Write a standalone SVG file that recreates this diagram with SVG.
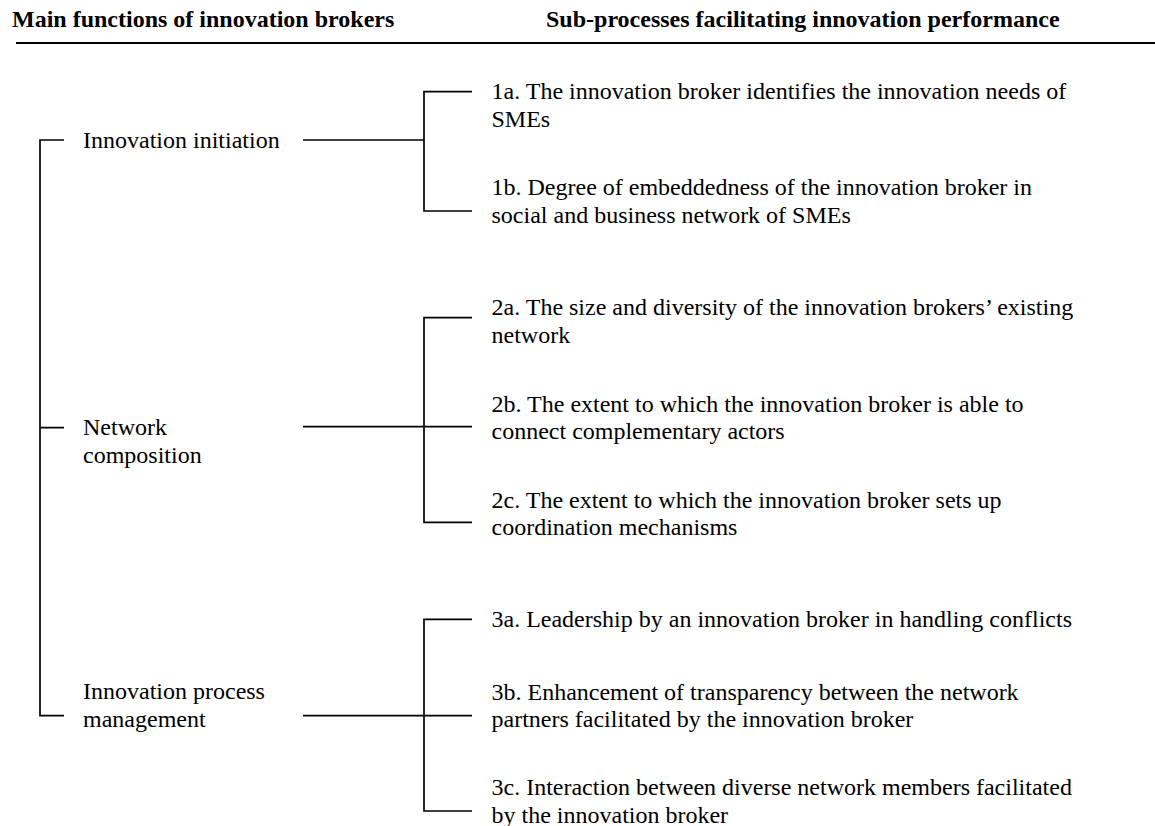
<svg xmlns="http://www.w3.org/2000/svg" width="1155" height="826" viewBox="0 0 1155 826">
<style>
.hd{font-family:"Liberation Serif","Times New Roman",serif;font-size:24px;font-weight:bold;fill:#000}
.tx{font-family:"Liberation Serif","Times New Roman",serif;font-size:24px;fill:#000}
.ln{fill:none;stroke:#000;stroke-width:1.7}
</style>
<rect width="1155" height="826" fill="#fff"/>
<g id="header">
<text class="hd" x="12" y="27">Main functions of innovation brokers</text>
<text class="hd" x="546" y="27">Sub-processes facilitating innovation performance</text>
<line x1="16" y1="43" x2="1155" y2="43" stroke="#000" stroke-width="2.2"/>
</g>
<g id="connectors">
<path class="ln" d="M64,140 H40 V715.7 H64 M40,427.7 H64"/>
<path class="ln" d="M303,140 H424 M303,426.7 H472 M303,715.7 H472"/>
<path class="ln" d="M472,91.7 H424 V211 H472"/>
<path class="ln" d="M472,317.7 H424 V522.3 H472"/>
<path class="ln" d="M472,619.3 H424 V811 H472"/>
</g>
<g id="node-innovation-initiation"><text class="tx" x="83" y="148">Innovation initiation</text></g>
<g id="node-network-composition"><text class="tx" x="83" y="435">Network<tspan x="83" dy="27.5">composition</tspan></text></g>
<g id="node-innovation-process-management"><text class="tx" x="83" y="699.3">Innovation process<tspan x="83" dy="27.5">management</tspan></text></g>
<g id="node-1a"><text class="tx" x="491.5" y="99">1a. The innovation broker identifies the innovation needs of<tspan x="491.5" dy="27.5">SMEs</tspan></text></g>
<g id="node-1b"><text class="tx" x="491.5" y="195">1b. Degree of embeddedness of the innovation broker in<tspan x="491.5" dy="27.5">social and business network of SMEs</tspan></text></g>
<g id="node-2a"><text class="tx" x="491.5" y="315">2a. The size and diversity of the innovation brokers’ existing<tspan x="491.5" dy="27.5">network</tspan></text></g>
<g id="node-2b"><text class="tx" x="491.5" y="411.5">2b. The extent to which the innovation broker is able to<tspan x="491.5" dy="27.5">connect complementary actors</tspan></text></g>
<g id="node-2c"><text class="tx" x="491.5" y="507.5">2c. The extent to which the innovation broker sets up<tspan x="491.5" dy="27.5">coordination mechanisms</tspan></text></g>
<g id="node-3a"><text class="tx" x="491.5" y="627">3a. Leadership by an innovation broker in handling conflicts</text></g>
<g id="node-3b"><text class="tx" x="491.5" y="699.5">3b. Enhancement of transparency between the network<tspan x="491.5" dy="27.5">partners facilitated by the innovation broker</tspan></text></g>
<g id="node-3c"><text class="tx" x="491.5" y="795">3c. Interaction between diverse network members facilitated<tspan x="491.5" dy="27.5">by the innovation broker</tspan></text></g>
</svg>
